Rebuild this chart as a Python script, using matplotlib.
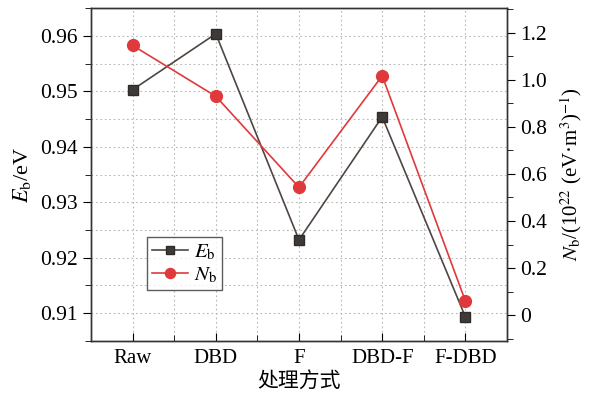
import matplotlib
matplotlib.use("Agg")
import matplotlib.pyplot as plt
from matplotlib.ticker import MultipleLocator, FixedLocator

methods = ["Raw", "DBD", "F", "DBD-F", "F-DBD"]
eb = [0.9503, 0.9604, 0.9232, 0.9454, 0.9093]   # eV
nb = [1.146, 0.930, 0.543, 1.017, 0.060]        # 10^22 (eV m^3)^-1

plt.rcParams["font.family"] = ["Liberation Serif", "Noto Sans CJK SC"]
plt.rcParams["mathtext.fontset"] = "stix"

fig = plt.figure(figsize=(5.92, 3.97), dpi=100)
ax = fig.add_axes([0.1537, 0.141, 0.7027, 0.8388])
ax2 = ax.twinx()

x = list(range(len(methods)))
ax.plot(x, eb, color="#4f4641", lw=1.2, marker="s", ms=6.5,
        mfc="#3f3a37", mec="#2f2b29", label=r"$E_\mathrm{b}$", zorder=3)
ax2.plot(x, nb, color="#e0393b", lw=1.2, marker="o", ms=8.5,
         mfc="#e0393b", mec="#e0393b", label=r"$N_\mathrm{b}$", zorder=3)

ax.set_xlim(-0.5, 4.5)
ax.set_ylim(0.90495, 0.96505)
ax2.set_ylim(-0.11, 1.305)

ax.set_xticks(x)
ax.set_xticklabels(methods)
ax.xaxis.set_minor_locator(FixedLocator([0.5, 1.5, 2.5, 3.5]))
ax.yaxis.set_major_locator(MultipleLocator(0.01))
ax.yaxis.set_minor_locator(MultipleLocator(0.005))
ax.yaxis.set_major_formatter(plt.FormatStrFormatter("%.2f"))
ax2.yaxis.set_minor_locator(MultipleLocator(0.1))
ax2.set_yticks([0, 0.2, 0.4, 0.6, 0.8, 1.0, 1.2])
ax2.set_yticklabels(["0", "0.2", "0.4", "0.6", "0.8", "1.0", "1.2"])

ax.grid(True, which="both", axis="both", ls=(0, (1.5, 2.5)), color="#b8b8b8", lw=0.8)
ax.set_axisbelow(True)

ax.tick_params(axis="y", which="both", direction="out", labelsize=15.5)
ax.tick_params(axis="y", which="major", length=6)
ax.tick_params(axis="y", which="minor", length=4)
ax.tick_params(axis="x", which="both", direction="in", labelsize=15, pad=6)
ax.tick_params(axis="x", which="major", length=6)
ax.tick_params(axis="x", which="minor", length=4)
ax2.tick_params(axis="y", which="both", direction="out", labelsize=15.5)
ax2.tick_params(axis="y", which="major", length=6)
ax2.tick_params(axis="y", which="minor", length=4)

for a in (ax, ax2):
    for s in a.spines.values():
        s.set_linewidth(1.0)
        s.set_color("#333333")

ax.set_ylabel(r"$E_\mathrm{b}$/eV", fontsize=16, labelpad=5)
ax2.set_ylabel(r"$N_\mathrm{b}$/(10$^{22}$ (eV·m$^{3}$)$^{-1}$)", fontsize=15, labelpad=8)
ax.set_xlabel("处理方式", fontsize=15, family=["Noto Sans CJK SC"], labelpad=1)

h1, l1 = ax.get_legend_handles_labels()
h2, l2 = ax2.get_legend_handles_labels()
leg = ax2.legend(h1 + h2, l1 + l2, loc="lower left", bbox_to_anchor=(0.135, 0.153),
                 borderaxespad=0, fontsize=15, frameon=True, fancybox=False,
                 edgecolor="#333333", handlelength=1.7, borderpad=0.25,
                 labelspacing=0.15, handletextpad=0.3, markerscale=0.85)
leg.get_frame().set_linewidth(1.0)

fig.savefig("out.png", dpi=100)
